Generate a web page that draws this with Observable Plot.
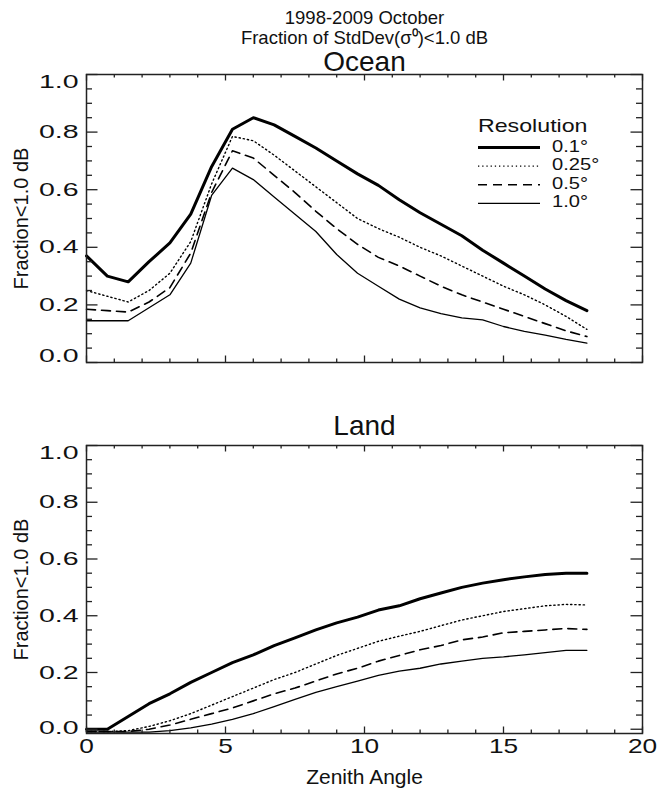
<!DOCTYPE html>
<html><head><meta charset="utf-8">
<script src="https://cdn.jsdelivr.net/npm/d3@7"></script>
<script src="https://cdn.jsdelivr.net/npm/@observablehq/plot@0.6"></script>
<style>
body{margin:0;background:#fff;}
#wrap{position:relative;width:657px;height:789px;overflow:hidden;font-family:"Liberation Sans",Arial,Helvetica,sans-serif;}
#wrap > svg{position:absolute;left:0;}
</style></head><body><div id="wrap"></div>
<script>
// ---- data ----
const angles = [0, 0.75, 1.5, 2.25, 3, 3.75, 4.5, 5.25, 6, 6.75, 7.5, 8.25, 9, 9.75, 10.5, 11.25, 12, 12.75, 13.5, 14.25, 15, 15.75, 16.5, 17.25, 18];
const resolutions = ["0.1°", "0.25°", "0.5°", "1.0°"];

const ocean01  = [0.37, 0.30, 0.28, 0.35, 0.415, 0.515, 0.68, 0.81, 0.85, 0.825, 0.785, 0.745, 0.70, 0.655, 0.615, 0.565, 0.52, 0.48, 0.44, 0.39, 0.345, 0.30, 0.255, 0.215, 0.18];
const ocean025 = [0.25, 0.23, 0.21, 0.25, 0.31, 0.42, 0.62, 0.785, 0.77, 0.72, 0.665, 0.61, 0.555, 0.50, 0.465, 0.435, 0.40, 0.37, 0.335, 0.30, 0.265, 0.235, 0.20, 0.16, 0.115];
const ocean05  = [0.185, 0.18, 0.175, 0.21, 0.26, 0.38, 0.59, 0.735, 0.71, 0.65, 0.59, 0.525, 0.465, 0.41, 0.365, 0.335, 0.30, 0.265, 0.235, 0.21, 0.185, 0.16, 0.135, 0.11, 0.09];
const ocean10  = [0.145, 0.145, 0.145, 0.19, 0.235, 0.345, 0.58, 0.675, 0.635, 0.575, 0.515, 0.455, 0.375, 0.31, 0.265, 0.22, 0.19, 0.17, 0.155, 0.148, 0.125, 0.108, 0.095, 0.08, 0.067];

const land01  = [0.0, 0.0, 0.045, 0.09, 0.125, 0.165, 0.20, 0.235, 0.262, 0.295, 0.322, 0.35, 0.375, 0.395, 0.42, 0.435, 0.46, 0.48, 0.50, 0.515, 0.527, 0.537, 0.545, 0.55, 0.55];
const land025 = [-0.008, -0.008, -0.005, 0.01, 0.03, 0.055, 0.085, 0.115, 0.145, 0.175, 0.20, 0.23, 0.26, 0.285, 0.31, 0.328, 0.345, 0.365, 0.385, 0.40, 0.415, 0.425, 0.435, 0.44, 0.438];
const land05  = [-0.008, -0.008, -0.008, 0.0, 0.015, 0.035, 0.055, 0.075, 0.10, 0.125, 0.145, 0.17, 0.195, 0.215, 0.24, 0.26, 0.28, 0.295, 0.315, 0.325, 0.34, 0.345, 0.35, 0.355, 0.352];
const land10  = [-0.01, -0.01, -0.01, -0.01, -0.005, 0.005, 0.018, 0.035, 0.055, 0.08, 0.105, 0.13, 0.15, 0.17, 0.19, 0.205, 0.215, 0.23, 0.24, 0.25, 0.255, 0.262, 0.27, 0.278, 0.278];

const xMajorTicks = [0, 5, 10, 15, 20];
const xMinorTicks = [1, 2, 3, 4, 6, 7, 8, 9, 11, 12, 13, 14, 16, 17, 18, 19];
const yMajorTicks = [0.0, 0.2, 0.4, 0.6, 0.8, 1.0];
const yMinorTicks = [0.05, 0.1, 0.15, 0.25, 0.3, 0.35, 0.45, 0.5, 0.55, 0.65, 0.7, 0.75, 0.85, 0.9, 0.95];

const titleLines = ["1998-2009 October", "Fraction of StdDev(σ⁰)<1.0 dB"];
const panelTitles = ["Ocean", "Land"];
const yAxisTitle = "Fraction<1.0 dB";
const xAxisTitle = "Zenith Angle";
const legendTitle = "Resolution";

// ---- styles ----
const lineStyles = [
  {w: 3.0, dash: null},
  {w: 1.4, dash: "1.3,2.9"},
  {w: 1.6, dash: "9,6"},
  {w: 1.3, dash: null}
];
const FONT = "Liberation Sans, Arial, Helvetica, sans-serif";
const W = 657, ML = 86, MR = 15;
const AX = "#222";

function panel({series, yDomain, svgTop, height, mt, mb, title, titleDy, showX, topDy, botDy, extraTitles}) {
  const fw = W - ML - MR, fh = height - mt - mb;
  const rows = [];
  series.forEach((arr, s) => arr.forEach((v, i) => rows.push({angle: angles[i], value: v, res: resolutions[s]})));
  const fmt = d3.format(".1f");
  const yLab = {tickSize: 0, tickPadding: 8, tickFormat: fmt, fontSize: 19, label: null};
  const marks = [
    ...lineStyles.map((st, s) => Plot.line(rows.filter(r => r.res === resolutions[s]), {
      x: "angle", y: "value", stroke: "#000", strokeWidth: st.w, strokeDasharray: st.dash, strokeLinejoin: "round"
    })),
    Plot.frame({stroke: AX, strokeWidth: 1.5}),
    // inward ticks, IDL style (bottom, top, left, right)
    Plot.tickX(xMajorTicks, {x: d => d, insetTop: fh - 6.5, stroke: AX, strokeWidth: 1.3}),
    Plot.tickX(xMinorTicks, {x: d => d, insetTop: fh - 3.5, stroke: AX, strokeWidth: 1.3}),
    Plot.tickX(xMajorTicks, {x: d => d, insetBottom: fh - 6.5, stroke: AX, strokeWidth: 1.3}),
    Plot.tickX(xMinorTicks, {x: d => d, insetBottom: fh - 3.5, stroke: AX, strokeWidth: 1.3}),
    Plot.tickY(yMajorTicks, {y: d => d, insetRight: fw - 11.5, stroke: AX, strokeWidth: 1.3}),
    Plot.tickY(yMinorTicks, {y: d => d, insetRight: fw - 6, stroke: AX, strokeWidth: 1.3}),
    Plot.tickY(yMajorTicks, {y: d => d, insetLeft: fw - 11.5, stroke: AX, strokeWidth: 1.3}),
    Plot.tickY(yMinorTicks, {y: d => d, insetLeft: fw - 6, stroke: AX, strokeWidth: 1.3}),
    // y tick labels (end labels nudged inside the frame like the original)
    Plot.axisY(yMajorTicks.slice(1, -1), yLab),
    Plot.axisY(yMajorTicks.slice(-1), {...yLab, dy: topDy}),
    Plot.axisY(yMajorTicks.slice(0, 1), {...yLab, dy: botDy}),
    Plot.text([yAxisTitle], {text: d => d, frameAnchor: "left", lineAnchor: "middle", textAnchor: "middle", rotate: -90, dx: -65, fontSize: 20}),
    Plot.text([title], {text: d => d, frameAnchor: "top", lineAnchor: "middle", dy: titleDy, fontSize: 28})
  ];
  if (extraTitles) {
    extraTitles.forEach(t => marks.push(Plot.text([t.text], {text: d => d, frameAnchor: "top", lineAnchor: "middle", dy: t.dy, fontSize: 18.5, ariaLabel: "main-title"})));
  }
  if (showX) {
    marks.push(Plot.axisX(xMajorTicks, {tickSize: 0, tickPadding: 5, fontSize: 21, label: null}));
    marks.push(Plot.text([xAxisTitle], {text: d => d, frameAnchor: "bottom", lineAnchor: "middle", dy: 43.6, fontSize: 21, ariaLabel: "x-title"}));
  }
  const svg = Plot.plot({
    width: W, height,
    marginLeft: ML, marginRight: MR, marginTop: mt, marginBottom: mb,
    x: {domain: [0, 20], axis: showX ? undefined : null},
    y: {domain: yDomain},
    style: {fontFamily: FONT, fontSize: "20px", color: "#111", background: "transparent", overflow: "visible"},
    marks
  });
  svg.style.top = svgTop + "px";
  return svg;
}

// widen text glyphs horizontally (the original's lettering is wide)
function widen(root, selector, factor) {
  root.querySelectorAll(selector).forEach(t => {
    const L = t.getComputedTextLength();
    if (L > 0) {
      t.setAttribute("textLength", (L * factor).toFixed(1));
      t.setAttribute("lengthAdjust", "spacingAndGlyphs");
    }
  });
}

const wrap = document.getElementById("wrap");
const oceanSvg = panel({
  series: [ocean01, ocean025, ocean05, ocean10],
  yDomain: [0, 1], svgTop: 0, height: 389, mt: 74, mb: 27,
  title: panelTitles[0], titleDy: -12, showX: false, topDy: 7, botDy: -7,
  extraTitles: [{text: titleLines[0], dy: -56.9}, {text: titleLines[1], dy: -36.2}]
});
const landSvg = panel({
  series: [land01, land025, land05, land10],
  yDomain: [-0.015, 1], svgTop: 389, height: 400, mt: 56, mb: 56,
  title: panelTitles[1], titleDy: -19, showX: true, topDy: 7, botDy: -1.5
});
wrap.appendChild(oceanSvg);
wrap.appendChild(landSvg);
[oceanSvg, landSvg].forEach(s => widen(s, 'g[aria-label="y-axis tick label"] text', 1.5));
widen(landSvg, 'g[aria-label="x-axis tick label"] text', 1.25);
widen(landSvg, 'g[aria-label="x-title"] text', 1.2);
widen(oceanSvg, 'g[aria-label="main-title"] text', 1.08);

// ---- legend (inside the Ocean panel) ----
const leg = d3.select(wrap).append("svg")
  .attr("width", W).attr("height", 260)
  .style("top", "0px")
  .style("font-family", FONT);
leg.append("text").attr("x", 478).attr("y", 131.5).attr("font-size", 19).attr("fill", "#111").text(legendTitle);
resolutions.forEach((r, i) => {
  const base = 151.5 + i * 18.6;
  const st = lineStyles[i];
  leg.append("line").attr("x1", 478).attr("x2", 540).attr("y1", base - 4).attr("y2", base - 4)
    .attr("stroke", "#000").attr("stroke-width", st.w).attr("stroke-dasharray", st.dash);
  leg.append("text").attr("x", 552).attr("y", base).attr("font-size", 16.5).attr("fill", "#111").text(r);
});
widen(leg.node(), "text", 1.22);
</script>
</body></html>
